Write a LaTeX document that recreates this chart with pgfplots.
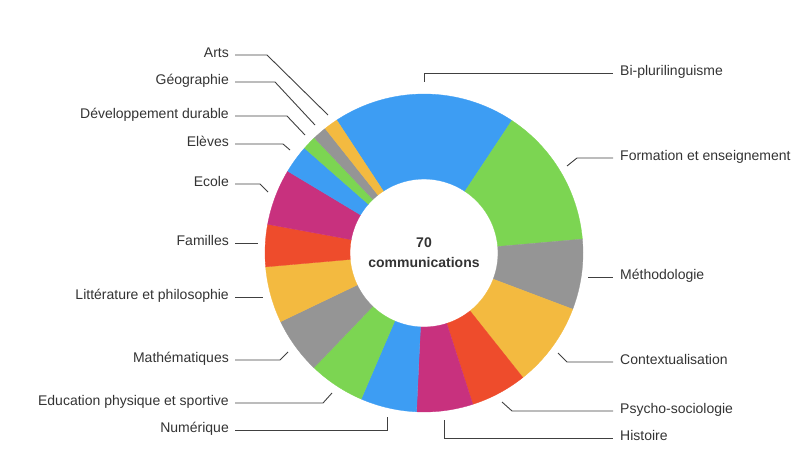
\documentclass[border=0pt]{standalone}
\usepackage{fontspec}
\setmainfont{Liberation Sans}
\usepackage{pgfplots}
\usepackage{pgfplotstable}
\pgfplotsset{compat=1.18}

\definecolor{pblue}{HTML}{3D9DF3}
\definecolor{pgreen}{HTML}{7CD552}
\definecolor{pgray}{HTML}{959595}
\definecolor{pyellow}{HTML}{F3BA40}
\definecolor{pred}{HTML}{EE4C2C}
\definecolor{pmag}{HTML}{C8317E}
\definecolor{txt}{HTML}{333333}

% communications per theme, clockwise from Bi-plurilinguisme
\pgfplotstableread{
val col
13 pblue
10 pgreen
5  pgray
6  pyellow
4  pred
4  pmag
4  pblue
4  pgreen
4  pgray
4  pyellow
3  pred
4  pmag
2  pblue
1  pgreen
1  pgray
1  pyellow
}\themes

\def\cx{424}\def\cy{205}
\def\rout{159}\def\rin{74}

\begin{document}
\begin{tikzpicture}[lbl/.style={font=\fontsize{14}{17}\selectfont, text=txt, inner sep=0pt}]
\begin{axis}[
  x=1pt, y=1pt,
  xmin=0, xmax=800, ymin=0, ymax=458,
  hide axis, clip=false,
  lead/.style={draw=black!75, line width=0.9pt, mark=none, solid},
]
\path (axis cs:0,0) rectangle (axis cs:800,458);

% donut slices
\pgfplotstablegetrowsof{\themes}
\pgfmathtruncatemacro\N{\pgfplotsretval-1}
\xdef\cum{123.3}
\pgfplotsforeachungrouped \i in {0,...,\N}{
  \pgfplotstablegetelem{\i}{val}\of\themes \let\v\pgfplotsretval
  \pgfplotstablegetelem{\i}{col}\of\themes \let\c\pgfplotsretval
  \pgfmathsetmacro\a{\cum}
  \pgfmathsetmacro\b{\cum-\v*360/70}
  \edef\temp{\noexpand\fill[\c, draw=\c, line width=0.3pt]
    (axis cs:{\cx+\rout*cos(\a)},{\cy+\rout*sin(\a)})
    arc[start angle=\a, end angle=\b, radius=\rout pt]
    -- (axis cs:{\cx+\rin*cos(\b)},{\cy+\rin*sin(\b)})
    arc[start angle=\b, end angle=\a, radius=\rin pt] -- cycle;}
  \temp
  \xdef\cum{\b}
}

\node[lbl, font=\fontsize{14}{20}\selectfont\bfseries, align=center] at (axis cs:\cx,\cy) {70\\communications};

% leader lines, left side
\addplot[lead] coordinates {(235,403) (267,403) (328,343)};
\addplot[lead] coordinates {(235,376) (275,376) (315,333)};
\addplot[lead] coordinates {(235,342) (287,342) (305,323)};
\addplot[lead] coordinates {(235,314) (283,314) (290,308)};
\addplot[lead] coordinates {(235,274) (260,274) (268,266)};
\addplot[lead] coordinates {(235,215) (258,215)};
\addplot[lead] coordinates {(235,161) (263,161)};
\addplot[lead] coordinates {(235,98) (280,98) (288,106)};
\addplot[lead] coordinates {(235,55) (323,55) (332,65)};
\addplot[lead] coordinates {(235,28) (387,28) (387,41)};
% leader lines, right side
\addplot[lead] coordinates {(424,376) (424,385) (613,385)};
\addplot[lead] coordinates {(567,292) (577,300) (613,300)};
\addplot[lead] coordinates {(588,181) (613,181)};
\addplot[lead] coordinates {(558,105) (567,96) (613,96)};
\addplot[lead] coordinates {(502,56) (512,47) (613,47)};
\addplot[lead] coordinates {(444,38) (444,20) (613,20)};

% labels
\node[lbl, anchor=mid east] at (axis cs:229,403) {Arts};
\node[lbl, anchor=mid east] at (axis cs:229,376) {Géographie};
\node[lbl, anchor=mid east] at (axis cs:229,342) {Développement durable};
\node[lbl, anchor=mid east] at (axis cs:229,314) {Elèves};
\node[lbl, anchor=mid east] at (axis cs:229,274) {Ecole};
\node[lbl, anchor=mid east] at (axis cs:229,215) {Familles};
\node[lbl, anchor=mid east] at (axis cs:229,161) {Littérature et philosophie};
\node[lbl, anchor=mid east] at (axis cs:229,98) {Mathématiques};
\node[lbl, anchor=mid east] at (axis cs:229,55) {Education physique et sportive};
\node[lbl, anchor=mid east] at (axis cs:229,28) {Numérique};
\node[lbl, anchor=mid west] at (axis cs:620,385) {Bi-plurilinguisme};
\node[lbl, anchor=mid west] at (axis cs:620,300) {Formation et enseignement};
\node[lbl, anchor=mid west] at (axis cs:620,181) {Méthodologie};
\node[lbl, anchor=mid west] at (axis cs:620,96) {Contextualisation};
\node[lbl, anchor=mid west] at (axis cs:620,47) {Psycho-sociologie};
\node[lbl, anchor=mid west] at (axis cs:620,20) {Histoire};
\end{axis}
\end{tikzpicture}
\end{document}
